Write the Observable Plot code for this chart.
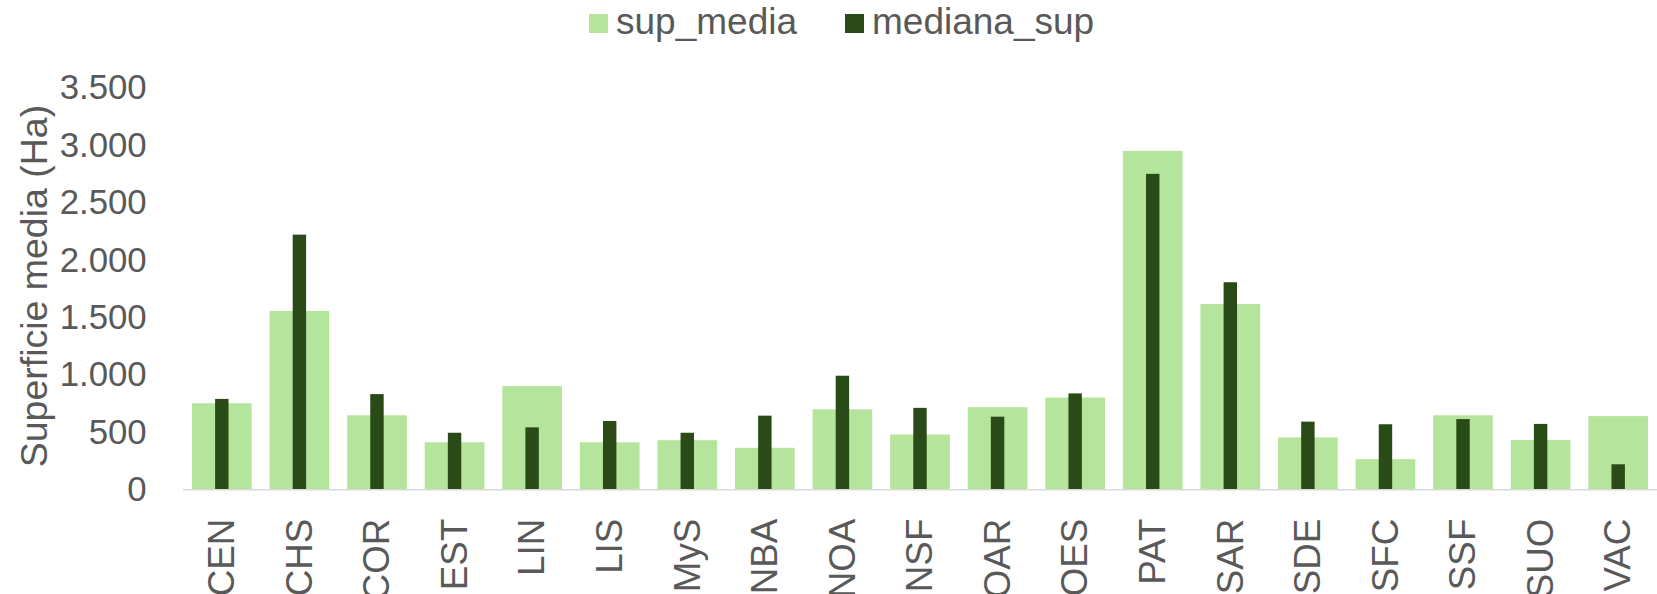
<!DOCTYPE html>
<html>
<head>
<meta charset="utf-8">
<script src="https://cdn.jsdelivr.net/npm/d3@7"></script>
<script src="https://cdn.jsdelivr.net/npm/@observablehq/plot@0.6"></script>
<style>
  html, body { margin: 0; padding: 0; background: #fff; }
  body { width: 1657px; height: 594px; overflow: hidden; font-family: "Liberation Sans", Arial, sans-serif; }
  #wrap { position: relative; width: 1657px; height: 594px; overflow: hidden; }
  #legend { position: relative; height: 50px; width: 1657px; }
  .sw { position: absolute; width: 19px; height: 19px; top: 14px; }
  .lt { position: absolute; top: 2px; font-size: 37px; line-height: 40px; color: #595959; white-space: nowrap; }
  #chart { position: absolute; top: 50px; left: 0; }
</style>
</head>
<body>
<div id="wrap">
  <div id="legend"></div>
  <div id="chart"></div>
</div>
<script>
const categories = ["CEN","CHS","COR","EST","LIN","LIS","MyS","NBA","NOA","NSF","OAR","OES","PAT","SAR","SDE","SFC","SSF","SUO","VAC"];
const supMedia =   [750, 1555, 645, 410, 900, 410, 428, 362, 697, 478, 716, 800, 2950, 1615, 452, 263, 645, 430, 638];
const medianaSup = [788, 2220, 830, 493, 540, 596, 493, 642, 990, 710, 633, 836, 2750, 1805, 590, 567, 612, 570, 218];
const seriesNames = ["sup_media", "mediana_sup"];
const seriesColors = ["#b5e49c", "#2a4b17"];
const yTicks = [0, 500, 1000, 1500, 2000, 2500, 3000, 3500];
const yTickLabels = ["0", "500", "1.000", "1.500", "2.000", "2.500", "3.000", "3.500"];
const yTitle = "Superficie media (Ha)";

const data = categories.map((c, i) => ({cat: c, sup_media: supMedia[i], mediana_sup: medianaSup[i]}));

// legend
const legend = document.getElementById("legend");
const legendPos = [[589, 616], [845, 872]];
seriesNames.forEach((name, i) => {
  const sw = document.createElement("div");
  sw.className = "sw";
  sw.style.left = legendPos[i][0] + "px";
  sw.style.background = seriesColors[i];
  legend.appendChild(sw);
  const t = document.createElement("div");
  t.className = "lt";
  t.style.left = legendPos[i][1] + "px";
  t.textContent = name;
  legend.appendChild(t);
});

const textColor = "#595959";
const H = 544;
const chart = Plot.plot({
  width: 1666,
  height: H,
  marginLeft: 184,
  marginRight: 0,
  marginTop: 38,
  marginBottom: H - 441.7,
  style: {fontFamily: '"Liberation Sans", Arial, sans-serif', background: "transparent", overflow: "visible"},
  x: {domain: categories, paddingInner: 0.237, paddingOuter: 0.1185, axis: null},
  y: {domain: [0, 3500], axis: null},
  marks: [
    Plot.barY(data, {x: "cat", y: "sup_media", fill: seriesColors[0]}),
    Plot.barY(data, {x: "cat", y: "mediana_sup", fill: seriesColors[1], insetLeft: 23.25, insetRight: 23.25}),
    Plot.ruleY([0], {stroke: "#d9d9d9", strokeWidth: 1.5}),
    Plot.axisY({ticks: yTicks, tickFormat: d => yTickLabels[yTicks.indexOf(d)], tickSize: 0, tickPadding: 37, fontSize: 35, color: textColor, label: null}),
    Plot.axisX({tickRotate: -90, tickSize: 0, tickPadding: 29, fontSize: 37, color: textColor, label: null}),
    Plot.text([yTitle], {frameAnchor: "left", dx: -149, dy: -3, rotate: -90, fontSize: 37.7, fill: textColor, textAnchor: "middle", lineAnchor: "middle"})
  ]
});
document.getElementById("chart").appendChild(chart);
</script>
</body>
</html>
